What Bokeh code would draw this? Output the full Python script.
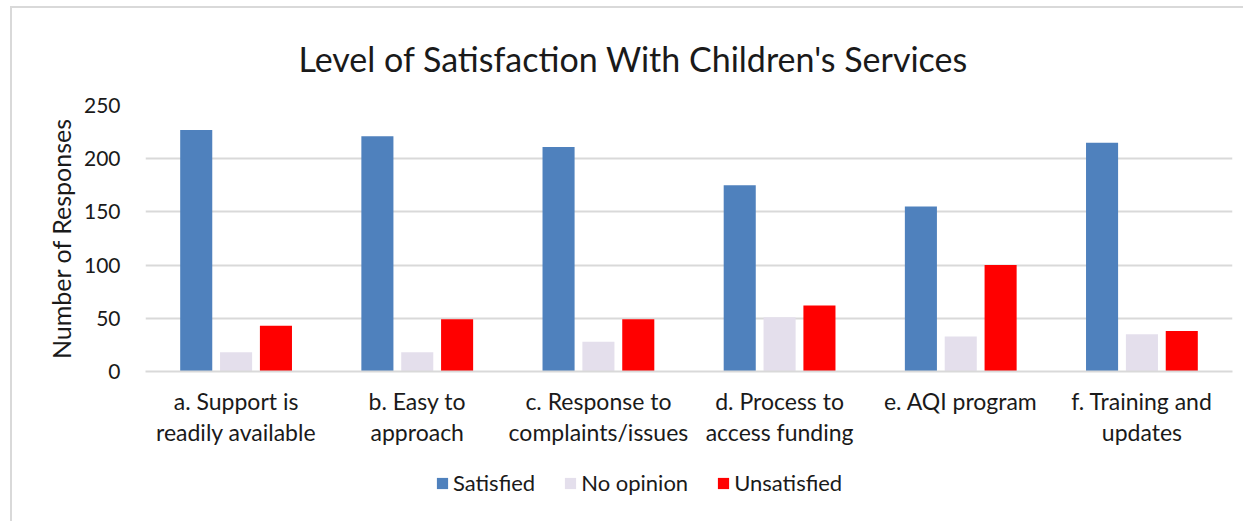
from bokeh.plotting import figure
from bokeh.layouts import column
from bokeh.models import (FactorRange, ColumnDataSource, Legend, LegendItem,
                          SingleIntervalTicker, CategoricalAxis, Range1d)
from bokeh.transform import dodge
from bokeh.embed import file_html
from bokeh.resources import INLINE

# Category labels, split over two lines, and response counts per series
label_line1 = ["a. Support is", "b. Easy to", "c. Response to",
               "d. Process to", "e. AQI program", "f. Training and"]
label_line2 = ["readily available", "approach", "complaints/issues",
               "access funding", " ", "updates"]
satisfied = [227, 221, 211, 175, 155, 215]
no_opinion = [18, 18, 28, 51, 33, 35]
unsatisfied = [43, 49, 49, 62, 100, 38]
series_names = ["Satisfied", "No opinion", "Unsatisfied"]
series_colors = ["#4f81bd", "#e4dfec", "#ff0000"]

FONT = "Lato"
TEXT = "#1a1a1a"
GRID = "#d9d9d9"
W = 1231

source = ColumnDataSource(dict(cat=label_line1, sat=satisfied, noop=no_opinion, unsat=unsatisfied))
fields = ["sat", "noop", "unsat"]
bar_w = 0.177
offsets = [-0.22, 0.0, 0.22]

# ---- main chart ----
p = figure(
    x_range=FactorRange(*label_line1),
    y_range=(0, 250),
    width=W, height=453,
    output_backend="svg",
    toolbar_location=None,
    min_border_left=133, min_border_right=11,
    min_border_top=97, min_border_bottom=90,
)
p.extra_x_ranges = {"line2": FactorRange(*label_line2)}
p.outline_line_color = None
p.background_fill_color = "white"
p.border_fill_color = "white"

p.title.text = "Level of Satisfaction With Children's Services"
p.title.text_font = FONT
p.title.text_font_size = "34px"
p.title.text_font_style = "normal"
p.title.text_color = TEXT
p.title.align = "left"
p.title.offset = 153
p.title.standoff = 53

for f, off, col in zip(fields, offsets, series_colors):
    p.vbar(x=dodge("cat", off, range=p.x_range), top=f, width=bar_w,
           source=source, fill_color=col, line_color=None)

# y axis
p.yaxis.ticker = SingleIntervalTicker(interval=50)
p.yaxis.axis_line_color = None
p.yaxis.major_tick_line_color = None
p.yaxis.minor_tick_line_color = None
p.yaxis.major_label_text_font = FONT
p.yaxis.major_label_text_font_size = "21px"
p.yaxis.major_label_text_color = TEXT
p.yaxis.major_label_standoff = 19
p.yaxis.axis_label = "Number of Responses"
p.yaxis.axis_label_text_font = FONT
p.yaxis.axis_label_text_font_size = "25px"
p.yaxis.axis_label_text_font_style = "normal"
p.yaxis.axis_label_text_color = TEXT
p.yaxis.axis_label_standoff = 5


def style_cat_axis(ax, standoff):
    ax.major_tick_line_color = None
    ax.minor_tick_line_color = None
    ax.major_label_text_font = FONT
    ax.major_label_text_font_size = "23px"
    ax.major_label_text_color = TEXT
    ax.major_label_standoff = standoff
    ax.major_label_orientation = "horizontal"


# x axis: first line of each category label
xa = p.xaxis[0]
xa.axis_line_color = GRID
xa.axis_line_width = 2
style_cat_axis(xa, 9)

# second line of each category label
xa2 = CategoricalAxis(x_range_name="line2")
xa2.axis_line_color = None
style_cat_axis(xa2, -6)
p.add_layout(xa2, "below")

p.xgrid.grid_line_color = None
p.ygrid.grid_line_color = GRID
p.ygrid.grid_line_width = 2

# ---- legend strip (series bars sit outside its visible range) ----
lg = figure(width=W, height=60, output_backend="svg", toolbar_location=None,
            min_border=0, x_range=FactorRange(*label_line1),
            y_range=Range1d(1000, 1001))
lg.outline_line_color = None
lg.axis.visible = False
lg.grid.visible = False
keys = [lg.vbar(x="cat", top=f, width=bar_w, source=source,
                fill_color=c, line_color=None)
        for f, c in zip(fields, series_colors)]
legend = Legend(
    items=[LegendItem(label=n, renderers=[r]) for n, r in zip(series_names, keys)],
    orientation="horizontal",
    location=(290, 25),
    glyph_width=14, glyph_height=14,
    label_standoff=4, spacing=28, padding=0, margin=0,
    label_text_font=FONT, label_text_font_size="22px", label_text_color=TEXT,
    border_line_color=None, background_fill_alpha=0,
)
lg.add_layout(legend)

layout = column(p, lg, spacing=0, styles={
    "margin-left": "10px", "margin-top": "6px",
    "border-left": f"2px solid {GRID}", "border-top": f"2px solid {GRID}",
})

open("out.html", "w").write(file_html(layout, INLINE))
